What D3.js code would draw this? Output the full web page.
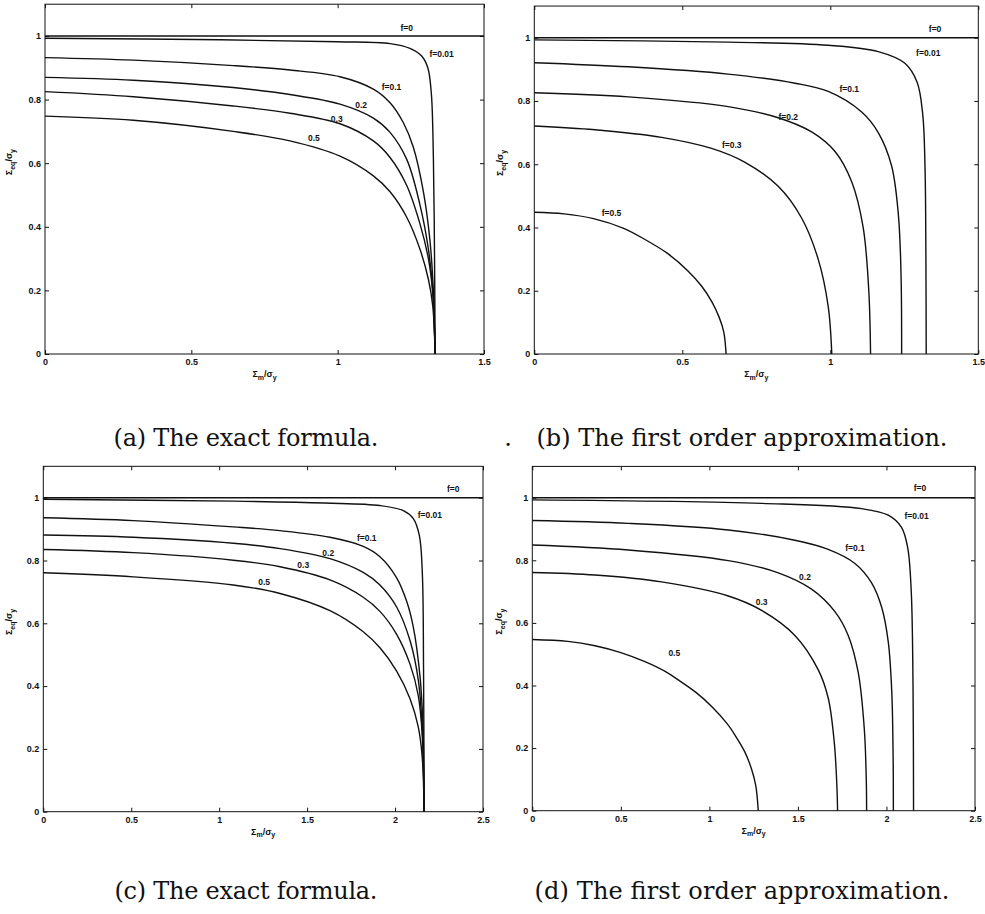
<!DOCTYPE html>
<html>
<head>
<meta charset="utf-8">
<script src="https://cdn.jsdelivr.net/npm/d3@7"></script>
<style>
  html, body { margin: 0; padding: 0; background: #fff; }
  svg { display: block; }
</style>
</head>
<body>
<svg id="chart" width="985" height="914"></svg>
<script>
'use strict';

// tick values
var X_TICKS_SHORT = [0, 0.5, 1, 1.5];
var X_TICKS_LONG = [0, 0.5, 1, 1.5, 2, 2.5];
var Y_TICKS = [0, 0.2, 0.4, 0.6, 0.8, 1];

// (a) exact formula, x up to 1.5
var A_F0 = [[0, 1], [1.5, 1]];
var A_F001 = [[0, 0.993], [0.6, 0.988], [1.0, 0.982], [1.179, 0.976], [1.247, 0.961], [1.287, 0.937], [1.308, 0.900], [1.320, 0.820], [1.327, 0.62], [1.331, 0.3], [1.333, 0]];
var A_F01 = [[0, 0.932], [0.302, 0.924], [0.643, 0.907], [0.837, 0.893], [1.008, 0.872], [1.122, 0.833], [1.179, 0.790], [1.224, 0.728], [1.258, 0.652], [1.293, 0.510], [1.315, 0.360], [1.327, 0.2], [1.333, 0]];
var A_F02 = [[0, 0.870], [0.302, 0.861], [0.643, 0.838], [0.837, 0.816], [1.008, 0.786], [1.122, 0.742], [1.179, 0.697], [1.236, 0.612], [1.281, 0.470], [1.310, 0.330], [1.325, 0.2], [1.333, 0]];
var A_F03 = [[0, 0.825], [0.302, 0.809], [0.643, 0.780], [0.837, 0.757], [1.008, 0.724], [1.122, 0.670], [1.179, 0.618], [1.236, 0.530], [1.281, 0.410], [1.310, 0.300], [1.325, 0.19], [1.333, 0]];
var A_F05 = [[0, 0.748], [0.302, 0.735], [0.643, 0.700], [0.837, 0.670], [1.008, 0.622], [1.122, 0.560], [1.179, 0.510], [1.236, 0.430], [1.281, 0.330], [1.310, 0.235], [1.325, 0.15], [1.333, 0]];
var A_LABELS = [['f=0', 1.236, 1.024], ['f=0.01', 1.355, 0.943], ['f=0.1', 1.184, 0.841], ['0.2', 1.080, 0.783], ['0.3', 0.997, 0.739], ['0.5', 0.919, 0.678]];

// (b) first order approximation, x up to 1.5
var B_F0 = [[0, 1], [1.5, 1]];
var B_F001 = [[0, 0.993], [0.655, 0.986], [0.993, 0.976], [1.162, 0.956], [1.252, 0.919], [1.293, 0.860], [1.312, 0.76], [1.320, 0.59], [1.323, 0.3], [1.324, 0]];
var B_F01 = [[0, 0.921], [0.318, 0.908], [0.655, 0.885], [0.881, 0.856], [0.993, 0.830], [1.106, 0.765], [1.162, 0.700], [1.207, 0.595], [1.230, 0.440], [1.239, 0.250], [1.241, 0]];
var B_F02 = [[0, 0.826], [0.318, 0.813], [0.655, 0.782], [0.824, 0.747], [0.937, 0.702], [1.016, 0.640], [1.072, 0.545], [1.111, 0.400], [1.130, 0.200], [1.136, 0]];
var B_F03 = [[0, 0.721], [0.205, 0.709], [0.430, 0.685], [0.599, 0.650], [0.712, 0.606], [0.824, 0.530], [0.903, 0.430], [0.959, 0.300], [0.993, 0.150], [1.005, 0]];
var B_F05 = [[0, 0.448], [0.1, 0.443], [0.2, 0.428], [0.3, 0.398], [0.374, 0.362], [0.45, 0.318], [0.52, 0.262], [0.565, 0.215], [0.6, 0.165], [0.625, 0.115], [0.640, 0.070], [0.648, 0]];
var B_LABELS = [['f=0', 1.354, 1.027], ['f=0.01', 1.331, 0.951], ['f=0.1', 1.064, 0.837], ['f=0.2', 0.858, 0.748], ['f=0.3', 0.667, 0.661], ['f=0.5', 0.261, 0.447]];

// (c) exact formula, x up to 2.5
var C_F0 = [[0, 1], [2.5, 1]];
var C_F001 = [[0, 0.995], [1.08, 0.989], [1.6, 0.983], [1.914, 0.975], [2.047, 0.959], [2.103, 0.934], [2.138, 0.880], [2.155, 0.760], [2.162, 0.45], [2.165, 0]];
var C_F01 = [[0, 0.936], [0.512, 0.927], [1.080, 0.907], [1.346, 0.895], [1.630, 0.874], [1.819, 0.845], [1.914, 0.812], [2.009, 0.745], [2.066, 0.670], [2.103, 0.590], [2.142, 0.430], [2.158, 0.280], [2.165, 0]];
var C_F02 = [[0, 0.881], [0.512, 0.874], [1.080, 0.855], [1.346, 0.838], [1.630, 0.806], [1.819, 0.762], [1.914, 0.722], [2.009, 0.652], [2.085, 0.545], [2.132, 0.420], [2.155, 0.260], [2.165, 0]];
var C_F03 = [[0, 0.835], [0.512, 0.825], [1.080, 0.801], [1.346, 0.780], [1.630, 0.738], [1.819, 0.683], [1.914, 0.638], [2.009, 0.565], [2.085, 0.470], [2.132, 0.370], [2.155, 0.240], [2.165, 0]];
var C_F05 = [[0, 0.761], [0.512, 0.748], [1.080, 0.722], [1.346, 0.695], [1.630, 0.640], [1.819, 0.573], [1.914, 0.522], [2.009, 0.448], [2.085, 0.360], [2.132, 0.270], [2.155, 0.170], [2.165, 0]];
var C_LABELS = [['f=0', 2.331, 1.027], ['f=0.01', 2.198, 0.945], ['f=0.1', 1.839, 0.871], ['0.2', 1.620, 0.825], ['0.3', 1.478, 0.786], ['0.5', 1.256, 0.732]];

// (d) first order approximation, x up to 2.5
var D_F0 = [[0, 1], [2.5, 1]];
var D_F001 = [[0, 0.993], [1.295, 0.982], [1.860, 0.965], [2.010, 0.944], [2.085, 0.905], [2.120, 0.840], [2.140, 0.700], [2.150, 0.400], [2.153, 0]];
var D_F01 = [[0, 0.927], [0.542, 0.918], [1.107, 0.897], [1.483, 0.864], [1.671, 0.835], [1.822, 0.790], [1.916, 0.728], [1.973, 0.650], [2.010, 0.540], [2.030, 0.380], [2.038, 0.150], [2.039, 0]];
var D_F02 = [[0, 0.849], [0.542, 0.833], [1.107, 0.799], [1.389, 0.760], [1.577, 0.708], [1.709, 0.636], [1.784, 0.560], [1.841, 0.440], [1.875, 0.260], [1.886, 0.100], [1.888, 0]];
var D_F03 = [[0, 0.761], [0.354, 0.753], [0.730, 0.731], [1.107, 0.686], [1.295, 0.640], [1.483, 0.560], [1.615, 0.450], [1.671, 0.360], [1.705, 0.220], [1.720, 0.080], [1.724, 0]];
var D_F05 = [[0, 0.547], [0.2, 0.541], [0.354, 0.527], [0.5, 0.505], [0.636, 0.476], [0.75, 0.445], [0.824, 0.418], [0.924, 0.378], [1.013, 0.333], [1.1, 0.278], [1.144, 0.242], [1.2, 0.188], [1.238, 0.133], [1.262, 0.080], [1.276, 0]];
var D_LABELS = [['f=0', 2.189, 1.030], ['f=0.01', 2.170, 0.942], ['f=0.1', 1.822, 0.838], ['0.2', 1.540, 0.748], ['0.3', 1.295, 0.666], ['0.5', 0.802, 0.503]];

var CAPTIONS = ['(a) The exact formula.', '(b) The first order approximation.', '(c) The exact formula.', '(d) The first order approximation.'];

(function initFigure() {
  var INK = '#111';
  var SANS = '"Liberation Sans", Arial, sans-serif';
  var SERIF = '"DejaVu Serif", serif';

  // plot frames in page pixels
  var panels = [
    { left: 45, right: 484, bottom: 354, unit: 318, xMax: 1.5, xTicks: X_TICKS_SHORT,
      curves: [A_F0, A_F001, A_F01, A_F02, A_F03, A_F05], labels: A_LABELS,
      caption: CAPTIONS[0], capX: 246, capY: 446, capW: 265, yLabX: 12 },
    { left: 534.3, right: 978.3, bottom: 354, unit: 316.3, xMax: 1.5, xTicks: X_TICKS_SHORT,
      curves: [B_F0, B_F001, B_F01, B_F02, B_F03, B_F05], labels: B_LABELS,
      caption: CAPTIONS[1], capX: 742, capY: 446, capW: 411, yLabX: 503, dot: true },
    { left: 43.3, right: 483, bottom: 811.7, unit: 314, xMax: 2.5, xTicks: X_TICKS_LONG,
      curves: [C_F0, C_F001, C_F01, C_F02, C_F03, C_F05], labels: C_LABELS,
      caption: CAPTIONS[2], capX: 246, capY: 899, capW: 263, yLabX: 12 },
    { left: 532.3, right: 975, bottom: 810.7, unit: 313, xMax: 2.5, xTicks: X_TICKS_LONG,
      curves: [D_F0, D_F001, D_F01, D_F02, D_F03, D_F05], labels: D_LABELS,
      caption: CAPTIONS[3], capX: 742, capY: 899, capW: 415, yLabX: 502 }
  ];

  var svg = d3.select('#chart');
  svg.append('rect').attr('width', 985).attr('height', 914).style('fill', '#fff');

  panels.forEach(function drawPanel(p) {
    var top = p.bottom - 1.1 * p.unit;
    var x = d3.scaleLinear().domain([0, p.xMax]).range([p.left, p.right]);
    var y = d3.scaleLinear().domain([0, 1.1]).range([p.bottom, top]);
    var g = svg.append('g');
    var fmt = d3.format('~g');

    function styleAxis(sel) {
      sel.select('.domain').remove();
      sel.selectAll('.tick line').style('stroke', INK).style('stroke-width', 1);
      sel.selectAll('.tick text')
        .style('font-family', SANS)
        .style('font-size', '9px')
        .style('font-weight', 'bold')
        .style('fill', INK);
    }

    g.append('g').attr('transform', 'translate(0,' + p.bottom + ')')
      .call(d3.axisBottom(x).tickValues(p.xTicks).tickFormat(fmt).tickSize(-4).tickPadding(5))
      .call(styleAxis);
    g.append('g').attr('transform', 'translate(0,' + top + ')')
      .call(d3.axisTop(x).tickValues(p.xTicks).tickFormat('').tickSize(-4))
      .call(styleAxis);
    g.append('g').attr('transform', 'translate(' + p.left + ',0)')
      .call(d3.axisLeft(y).tickValues(Y_TICKS).tickFormat(fmt).tickSize(-4).tickPadding(4))
      .call(styleAxis);
    g.append('g').attr('transform', 'translate(' + p.right + ',0)')
      .call(d3.axisRight(y).tickValues(Y_TICKS).tickFormat('').tickSize(-4))
      .call(styleAxis);

    g.append('rect')
      .attr('x', p.left).attr('y', top)
      .attr('width', p.right - p.left).attr('height', p.bottom - top)
      .style('fill', 'none').style('stroke', INK).style('stroke-width', 1);

    var line = d3.line()
      .x(function (d) { return x(d[0]); })
      .y(function (d) { return y(d[1]); })
      .curve(d3.curveCatmullRom.alpha(0.5));

    p.curves.forEach(function (c) {
      g.append('path').attr('d', line(c))
        .style('fill', 'none').style('stroke', INK).style('stroke-width', 1.4)
        .style('stroke-linejoin', 'round');
    });

    p.labels.forEach(function (l) {
      g.append('text')
        .attr('x', x(l[1])).attr('y', y(l[2]))
        .attr('text-anchor', 'middle').attr('dominant-baseline', 'central')
        .style('font-family', SANS).style('font-size', '8.5px').style('font-weight', 'bold')
        .style('fill', INK).text(l[0]);
    });

    // x axis title: Σm/σy
    var xt = g.append('text')
      .attr('x', (p.left + p.right) / 2).attr('y', p.bottom + 23)
      .attr('text-anchor', 'middle')
      .style('font-family', SANS).style('font-size', '9px').style('font-weight', 'bold').style('fill', INK);
    xt.append('tspan').text('Σ');
    xt.append('tspan').attr('dy', 2.5).style('font-size', '7px').text('m');
    xt.append('tspan').attr('dy', -2.5).text('/σ');
    xt.append('tspan').attr('dy', 2.5).style('font-size', '7px').text('y');

    // y axis title: Σeq/σy
    var cy = (top + p.bottom) / 2 - 17;
    var yt = g.append('text')
      .attr('transform', 'translate(' + p.yLabX + ',' + cy + ') rotate(-90)')
      .attr('text-anchor', 'middle')
      .style('font-family', SANS).style('font-size', '9px').style('font-weight', 'bold').style('fill', INK);
    yt.append('tspan').text('Σ');
    yt.append('tspan').attr('dy', 2.5).style('font-size', '7px').text('eq');
    yt.append('tspan').attr('dy', -2.5).text('/σ');
    yt.append('tspan').attr('dy', 2.5).style('font-size', '7px').text('y');

    svg.append('text')
      .attr('x', p.capX).attr('y', p.capY)
      .attr('text-anchor', 'middle')
      .attr('textLength', p.capW).attr('lengthAdjust', 'spacing')
      .style('font-family', SERIF).style('font-size', '24px').style('fill', INK)
      .text(p.caption);

    if (p.dot) {
      svg.append('text').attr('x', 508).attr('y', p.capY)
        .attr('text-anchor', 'middle')
        .style('font-family', SERIF).style('font-size', '24px').style('fill', INK)
        .text('.');
    }
  });
}());
</script>
</body>
</html>
